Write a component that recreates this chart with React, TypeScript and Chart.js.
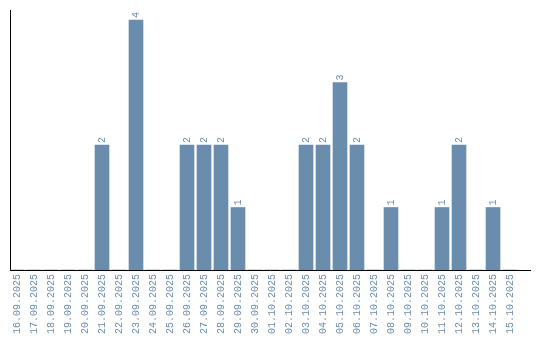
import React, { useEffect, useRef } from "react";
import { Chart, registerables } from "chart.js";

Chart.register(...registerables);

const dates: string[] = [
  "16.09.2025", "17.09.2025", "18.09.2025", "19.09.2025", "20.09.2025",
  "21.09.2025", "22.09.2025", "23.09.2025", "24.09.2025", "25.09.2025",
  "26.09.2025", "27.09.2025", "28.09.2025", "29.09.2025", "30.09.2025",
  "01.10.2025", "02.10.2025", "03.10.2025", "04.10.2025", "05.10.2025",
  "06.10.2025", "07.10.2025", "08.10.2025", "09.10.2025", "10.10.2025",
  "11.10.2025", "12.10.2025", "13.10.2025", "14.10.2025", "15.10.2025",
];

const counts: number[] = [
  0, 0, 0, 0, 0,
  2, 0, 4, 0, 0,
  2, 2, 2, 1, 0,
  0, 0, 2, 2, 3,
  2, 0, 1, 0, 0,
  1, 2, 0, 1, 0,
];

const BAR_COLOR = "#6a8cad";
const TEXT_COLOR = "#6a8cad";
const FONT_FAMILY = "'Liberation Mono', 'DejaVu Sans Mono', monospace";

const valueLabels = {
  id: "valueLabels",
  afterDatasetsDraw(chart: any) {
    const ctx = chart.ctx;
    const meta = chart.getDatasetMeta(0);
    ctx.save();
    ctx.fillStyle = TEXT_COLOR;
    ctx.font = `10px ${FONT_FAMILY}`;
    ctx.textAlign = "left";
    ctx.textBaseline = "middle";
    meta.data.forEach((bar: any, i: number) => {
      const v = counts[i];
      if (!v) return;
      ctx.save();
      ctx.translate(bar.x, bar.y - 2);
      ctx.rotate(-Math.PI / 2);
      ctx.fillText(String(v), 0, 0);
      ctx.restore();
    });
    ctx.restore();
  },
};

export default function App() {
  const ref = useRef<HTMLCanvasElement | null>(null);

  useEffect(() => {
    if (!ref.current) return;
    const chart = new Chart(ref.current, {
      type: "bar",
      data: {
        datasets: [
          {
            data: counts.map((c, i) => ({ x: i, y: c })),
            backgroundColor: BAR_COLOR,
            borderWidth: 0,
            barThickness: 14,
          },
        ],
      },
      options: {
        responsive: false,
        animation: false,
        layout: { padding: { left: 10, top: 10, right: 10, bottom: 0 } },
        plugins: {
          legend: { display: false },
          tooltip: { enabled: false },
        },
        scales: {
          x: {
            type: "linear",
            min: -0.4118,
            max: 30.176,
            offset: false,
            grid: { display: false, drawTicks: false },
            border: { display: true, color: "#000", width: 1 },
            afterBuildTicks: (scale: any) => {
              scale.ticks = dates.map((_, i) => ({ value: i }));
            },
            afterFit: (scale: any) => {
              scale.height = 70;
            },
            ticks: {
              autoSkip: false,
              maxRotation: 90,
              minRotation: 90,
              padding: 4,
              color: TEXT_COLOR,
              font: { family: FONT_FAMILY, size: 10 },
              callback: (v: any) => dates[Math.round(Number(v))] ?? "",
            },
          },
          y: {
            type: "linear",
            min: 0,
            max: 4.16,
            grid: { display: false, drawTicks: false },
            border: { display: true, color: "#000", width: 1 },
            ticks: { display: false },
            afterFit: (scale: any) => {
              scale.width = 0;
            },
          },
        },
      },
      plugins: [valueLabels],
    });
    return () => chart.destroy();
  }, []);

  return (
    <div style={{ position: "fixed", left: 0, top: 0, width: 540, height: 340, background: "#fff" }}>
      <canvas ref={ref} width={540} height={340} />
    </div>
  );
}
